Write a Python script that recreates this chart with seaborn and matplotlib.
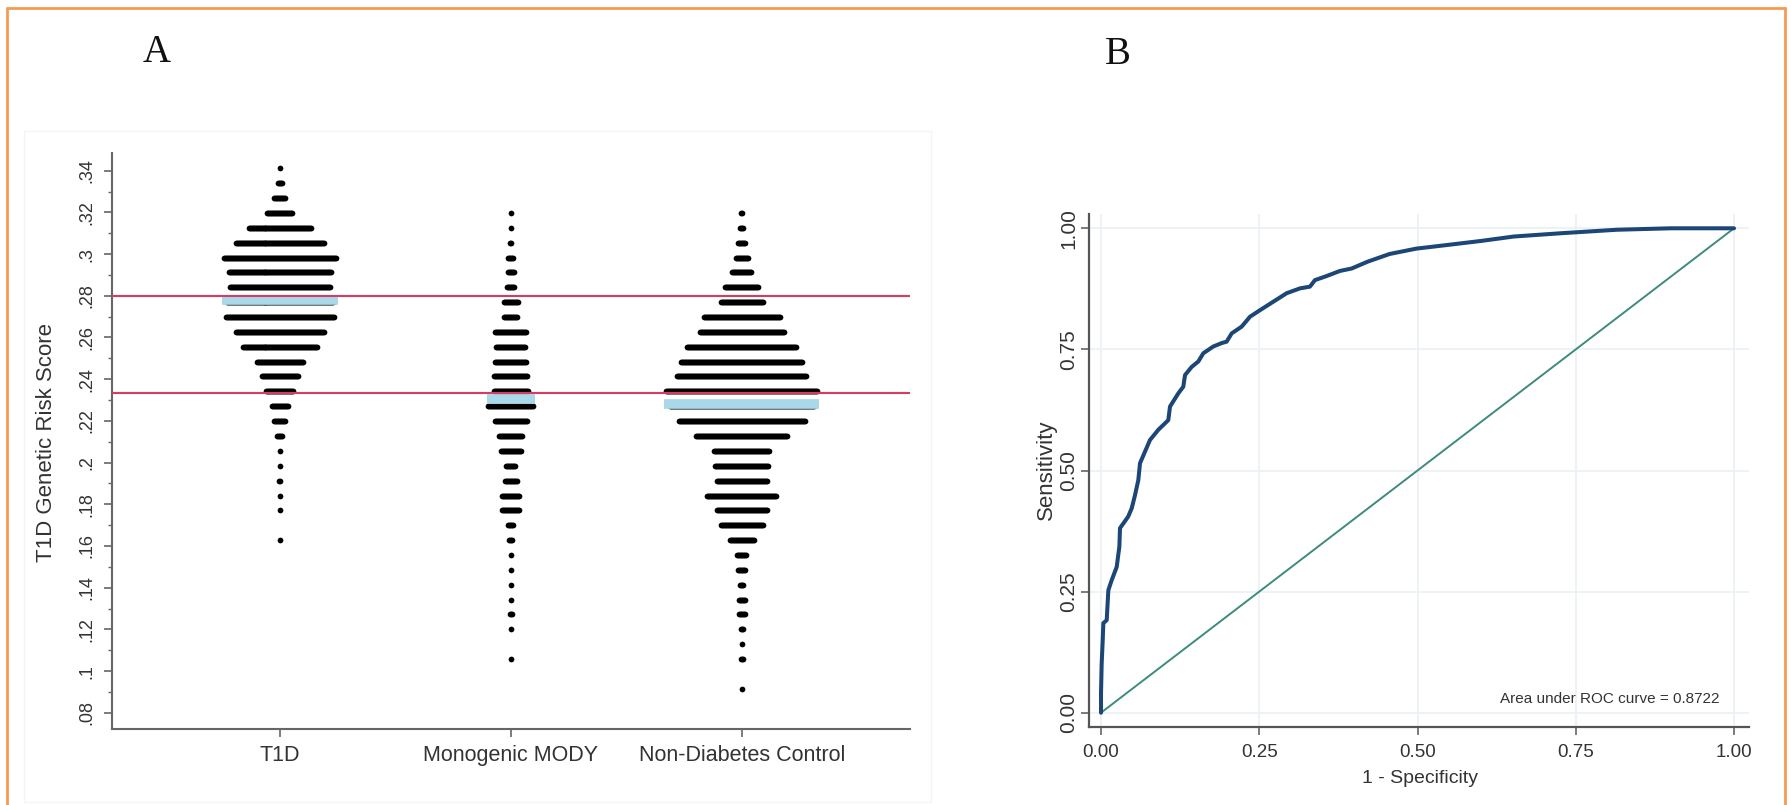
import numpy as np
import pandas as pd
import matplotlib
matplotlib.use("Agg")
import matplotlib.pyplot as plt
from matplotlib.lines import Line2D
from matplotlib.patches import Rectangle
import seaborn as sns

sns.set_style("white")
plt.rcParams["font.family"] = ["Liberation Sans", "DejaVu Sans"]

# ---------------- Panel A: dot plot of the genetic risk score ----------------
groups = ["T1D", "Monogenic MODY", "Non-Diabetes Control"]

# centres of the score bins (one row of dots per bin)
bin_centres = [0.3411, 0.3340, 0.3269, 0.3197, 0.3126, 0.3055, 0.2983, 0.2912,
               0.2841, 0.2769, 0.2698, 0.2627, 0.2555, 0.2484, 0.2413, 0.2342,
               0.2270, 0.2199, 0.2128, 0.2056, 0.1985, 0.1914, 0.1842, 0.1771,
               0.1700, 0.1628, 0.1557, 0.1486, 0.1415, 0.1343, 0.1272, 0.1201,
               0.1129, 0.1058, 0.0987, 0.0915]

t1d_counts = [1, 5, 12, 26, 64, 90, 113, 104, 101, 108, 109, 89, 76, 47, 37, 28,
              17, 12, 6, 1, 1, 2, 1, 1, 0, 1, 0, 0, 0, 0, 0, 0, 0, 0, 0, 0]
mody_counts = [0, 0, 0, 1, 1, 2, 6, 7, 8, 15, 14, 32, 30, 32, 34, 35,
               46, 33, 24, 21, 10, 13, 18, 18, 6, 4, 1, 1, 1, 1, 3, 1, 0, 1, 0, 0]
control_counts = [0, 0, 0, 2, 4, 8, 13, 20, 34, 43, 77, 85, 110, 122, 130, 152,
                  145, 127, 92, 56, 54, 51, 70, 51, 43, 25, 10, 8, 4, 7, 7, 3, 1, 3, 0, 1]

medians = [0.2780, 0.2305, 0.2282]
thresholds = [0.2800, 0.2332]

# ---------------- Panel B: ROC curve ----------------
fpr = [0.0, 0.0, 0.001, 0.0027, 0.0037, 0.009, 0.0116, 0.017, 0.0248, 0.029,
       0.030, 0.043, 0.0485, 0.0537, 0.0589, 0.0616, 0.0774, 0.0905, 0.1063,
       0.109, 0.122, 0.130, 0.1327, 0.1433, 0.1537, 0.1616, 0.1774, 0.1906,
       0.1985, 0.2064, 0.2222, 0.2354, 0.2512, 0.2722, 0.2933, 0.3144, 0.330,
       0.338, 0.3565, 0.3776, 0.396, 0.421, 0.456, 0.498, 0.55, 0.601, 0.652,
       0.729, 0.815, 0.9, 1.0]
tpr = [0.0, 0.04, 0.10, 0.15, 0.185, 0.191, 0.253, 0.274, 0.301, 0.343,
       0.381, 0.405, 0.422, 0.449, 0.480, 0.515, 0.563, 0.584, 0.604,
       0.632, 0.659, 0.673, 0.697, 0.714, 0.725, 0.742, 0.756, 0.763,
       0.766, 0.783, 0.797, 0.8175, 0.831, 0.8485, 0.866, 0.876, 0.8795,
       0.893, 0.9015, 0.912, 0.917, 0.931, 0.947, 0.958, 0.966, 0.974, 0.983,
       0.990, 0.997, 1.0, 1.0]
auc = 0.8722

# ---------------- figure ----------------
W, H = 1791, 805
fig = plt.figure(figsize=(W / 100, H / 100), dpi=100)
fig.patch.set_facecolor("white")


def fx(px):
    return px / W


def fy(py):
    return 1 - py / H


grey = "#666666"
text_col = "#333333"

# outer orange frame
orange = "#f59b52"
for xs, ys in [((7, 7), (805, 8)), ((7, 1785), (8, 8)), ((1785, 1785), (8, 805))]:
    fig.add_artist(Line2D([fx(xs[0]), fx(xs[1])], [fy(ys[0]), fy(ys[1])],
                          color=orange, lw=2.0, transform=fig.transFigure))

# faint graph-region frame around panel A
fig.add_artist(Rectangle((fx(24), fy(802)), (931 - 24) / W, (802 - 131) / H,
                         fill=False, edgecolor="#f1f5f5", lw=1.0,
                         transform=fig.transFigure))

fig.text(fx(157), fy(53), "A", family="Liberation Serif", fontsize=28,
         ha="center", va="center", color="#111111")
fig.text(fx(1118), fy(54), "B", family="Liberation Serif", fontsize=28,
         ha="center", va="center", color="#111111")

# ---- Panel A ----
axA = fig.add_axes([fx(111.7), fy(728.7), (910 - 111.7) / W, (728.7 - 153) / H])

dot_step = 0.00433  # horizontal spacing between stacked dots (category units)
records = []
for gi, counts in enumerate([t1d_counts, mody_counts, control_counts]):
    for yv, n in zip(bin_centres, counts):
        if n == 0:
            continue
        offs = (np.arange(n) - (n - 1) / 2.0) * dot_step
        for o in offs:
            records.append({"x": gi + o, "score": yv, "group": groups[gi]})
dots = pd.DataFrame(records)

sns.scatterplot(data=dots, x="x", y="score", color="black", s=17, linewidth=0,
                marker="o", ax=axA, legend=False, zorder=2)

for gi, counts in enumerate([t1d_counts, mody_counts, control_counts]):
    half = (max(counts) - 1) / 2.0 * dot_step + 0.008
    axA.plot([gi - half, gi + half], [medians[gi], medians[gi]], color="#a9d8e8",
             lw=7, solid_capstyle="butt", zorder=3)

for t in thresholds:
    axA.axhline(t, color="#d93a63", lw=1.5, zorder=4)

axA.set_xlim(-0.729, 2.729)
axA.set_ylim(0.07237, 0.34849)
axA.set_xticks([0, 1, 2])
axA.set_xticklabels(groups, fontsize=15.5, color=text_col)
yt = [0.08, 0.10, 0.12, 0.14, 0.16, 0.18, 0.20, 0.22, 0.24, 0.26, 0.28, 0.30, 0.32, 0.34]
ytl = [".08", ".1", ".12", ".14", ".16", ".18", ".2", ".22", ".24", ".26", ".28", ".3", ".32", ".34"]
axA.set_yticks(yt)
axA.set_yticklabels(ytl, rotation=90, va="center", fontsize=13, color=text_col)
axA.set_yticks([0.09, 0.11, 0.13, 0.15, 0.17, 0.19, 0.21, 0.23, 0.25, 0.27, 0.29,
                0.31, 0.33], minor=True)
axA.tick_params(axis="y", which="major", direction="out", length=6, width=1.2,
                color=grey, pad=5.5, left=True)
axA.tick_params(axis="y", which="minor", direction="out", length=3, width=1.0,
                color=grey, left=True)
axA.tick_params(axis="x", which="major", direction="out", length=6, width=1.2,
                color=grey, pad=6, bottom=True)
axA.set_xlabel("")
axA.set_ylabel("")
for s in ["top", "right"]:
    axA.spines[s].set_visible(False)
for s in ["left", "bottom"]:
    axA.spines[s].set_color(grey)
    axA.spines[s].set_linewidth(1.5)
axA.set_facecolor("white")
fig.text(fx(47), fy(442), "T1D Genetic Risk Score", rotation=90, ha="center",
         va="center", fontsize=16, color=text_col)

# ---- Panel B ----
axB = fig.add_axes([fx(1089.3), fy(727.3), (1748.7 - 1089.3) / W, (727.3 - 214) / H])
axB.set_xlim(-0.0185, 1.0232)
axB.set_ylim(-0.0301, 1.0295)
ticks = [0.0, 0.25, 0.5, 0.75, 1.0]
tick_labels = ["0.00", "0.25", "0.50", "0.75", "1.00"]
axB.set_xticks(ticks)
axB.set_yticks(ticks)
axB.grid(True, color="#eaf1f3", lw=1.2)
axB.set_axisbelow(True)

sns.lineplot(x=[0, 1], y=[0, 1], color="#3d8b7d", lw=1.4, ax=axB, zorder=2)
sns.lineplot(x=fpr, y=tpr, sort=False, estimator=None, color="#1b4676", lw=2.9,
             ax=axB, zorder=3)

axB.set_xticklabels(tick_labels, fontsize=13.5, color=text_col)
axB.set_yticklabels(tick_labels, rotation=90, va="center", fontsize=15, color=text_col)
axB.tick_params(axis="both", which="major", direction="out", length=6, width=1.2,
                color=grey, left=True, bottom=True)
axB.tick_params(axis="y", pad=2)
axB.tick_params(axis="x", pad=6)
axB.set_xlabel("")
axB.set_ylabel("")
for s in ["top", "right"]:
    axB.spines[s].set_visible(False)
for s in ["left", "bottom"]:
    axB.spines[s].set_color("#555555")
    axB.spines[s].set_linewidth(1.6)

fig.text(fx(1420), fy(778), "1 - Specificity", ha="center", va="center",
         fontsize=14, color=text_col)
fig.text(fx(1046), fy(470), "Sensitivity", rotation=90, ha="center", va="center",
         fontsize=16, color=text_col)
fig.text(fx(1720), fy(699), f"Area under ROC curve = {auc:.4f}", ha="right",
         va="center", fontsize=11, color=text_col)

fig.savefig("out.png", dpi=100, facecolor="white")
